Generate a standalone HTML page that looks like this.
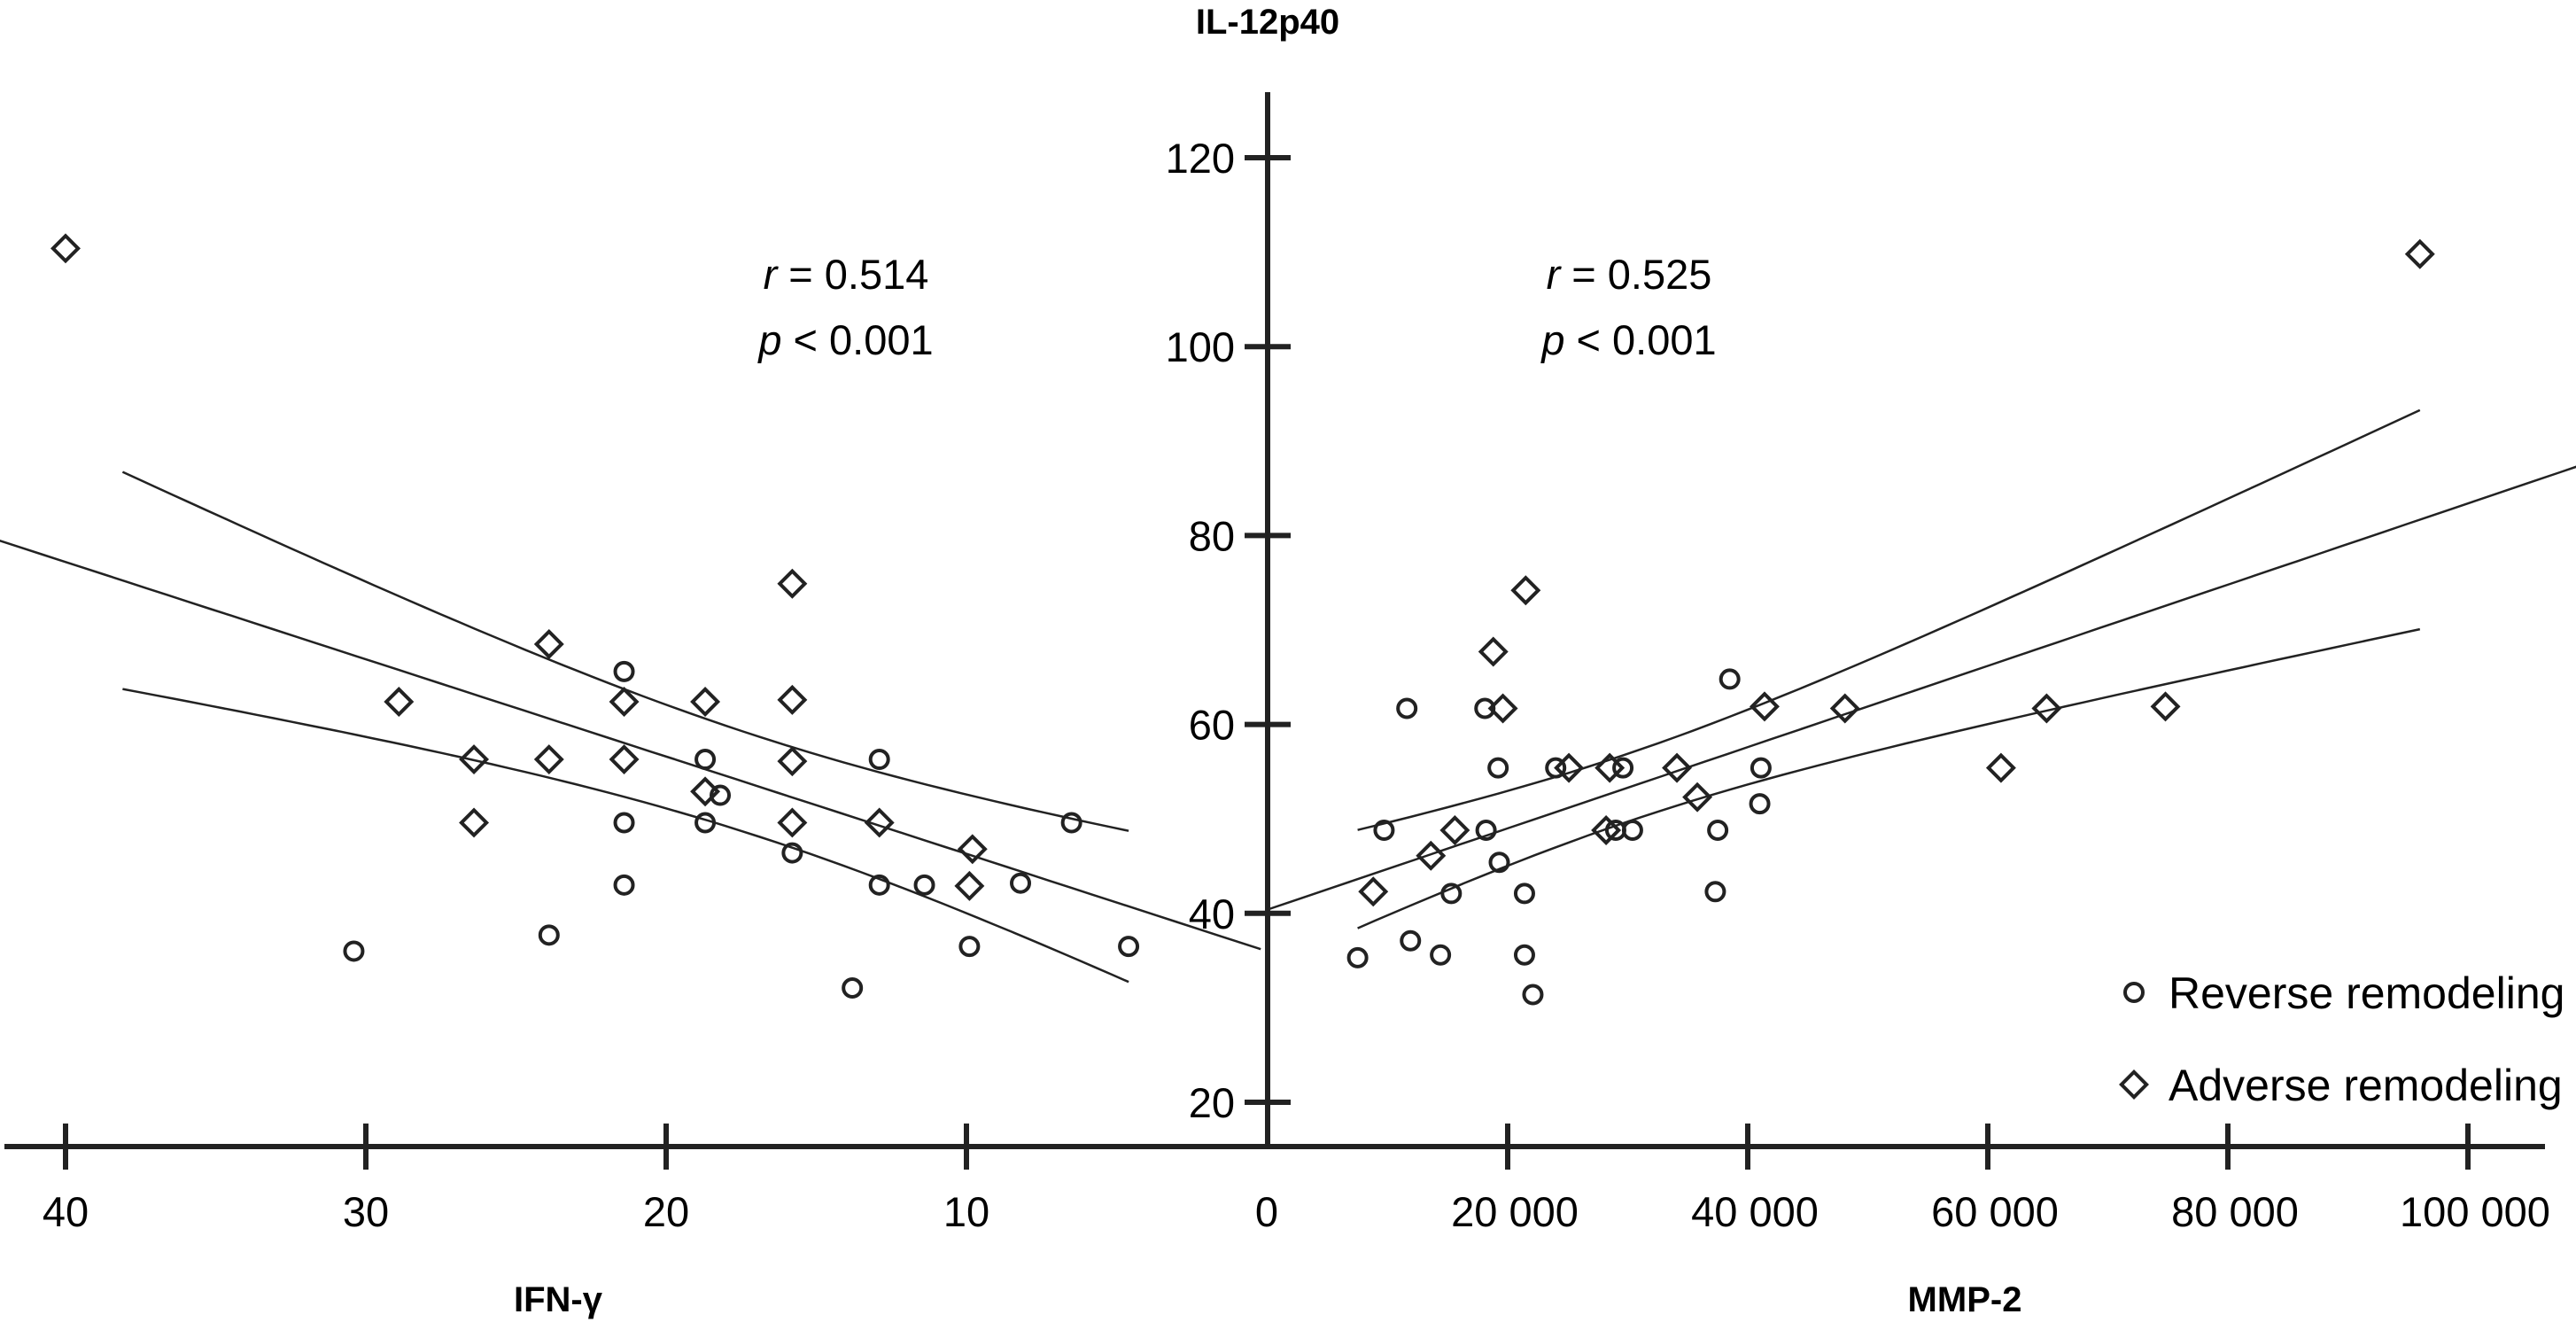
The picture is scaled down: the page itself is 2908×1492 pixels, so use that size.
<!DOCTYPE html>
<html><head><meta charset="utf-8"><style>
html,body{margin:0;padding:0;background:#fff;}
svg{display:block;font-family:"Liberation Sans",sans-serif;}
</style></head><body>
<svg id="chart" width="2908" height="1492" viewBox="0 0 2908 1492" xmlns="http://www.w3.org/2000/svg">
<g id="axes"></g>
<g id="lines"></g>
<g id="points"></g>
<text x="1431" y="38" font-size="40" font-weight="bold" text-anchor="middle">IL-12p40</text>
<text x="630" y="1480" font-size="40" font-weight="bold" text-anchor="middle">IFN-γ</text>
<text x="2218" y="1480" font-size="40" font-weight="bold" text-anchor="middle">MMP-2</text>
<g font-size="47" text-anchor="middle">
<text x="955" y="326"><tspan font-style="italic">r</tspan> = 0.514</text>
<text x="955" y="400"><tspan font-style="italic">p</tspan> &lt; 0.001</text>
</g>
<g font-size="47" text-anchor="middle">
<text x="1839" y="326"><tspan font-style="italic">r</tspan> = 0.525</text>
<text x="1839" y="400"><tspan font-style="italic">p</tspan> &lt; 0.001</text>
</g>
<g>
<circle cx="2409" cy="1120" r="10" fill="none" stroke="#222" stroke-width="4"/>
<text x="2448" y="1138" font-size="50">Reverse remodeling</text>
<rect x="2399" y="1214" width="20" height="20" transform="rotate(45 2409 1224)" fill="none" stroke="#222" stroke-width="4"/>
<text x="2448" y="1242" font-size="50">Adverse remodeling</text>
</g>
</svg>
<script>
// Data
const yTicks = [20,40,60,80,100,120];
const leftTicks = [40,30,20,10,0];
const rightTicks = [20000,40000,60000,80000,100000];
const rightTickLabels = ["20 000","40 000","60 000","80 000","100 000"];
const leftDiamondX = [40,23.9,28.9,21.4,18.7,15.8,15.8,26.4,23.9,21.4,15.8,26.4,18.7,15.8,12.9,9.8,9.9];
const leftDiamondY = [110.4,68.5,62.4,62.4,62.4,74.9,62.6,56.3,56.3,56.3,56.1,49.6,52.9,49.6,49.6,46.8,42.9];
const leftCircleX = [21.4,18.7,18.2,18.7,21.4,12.9,15.8,21.4,12.9,11.4,8.2,6.5,30.4,23.9,13.8,9.9,4.6];
const leftCircleY = [65.6,56.3,52.5,49.6,49.6,56.3,46.4,43.0,43.0,43.0,43.2,49.6,36.0,37.7,32.1,36.5,36.5];
const rightDiamondX = [96000,21500,18800,19600,41400,48100,64900,74800,25100,28500,34100,61100,35800,15600,13600,8800,28200];
const rightDiamondY = [109.8,74.2,67.7,61.7,61.9,61.7,61.7,61.9,55.4,55.4,55.4,55.4,52.3,48.8,46.1,42.3,48.8];
const rightCircleX = [11600,18100,38500,19200,24000,29600,41100,41000,9700,18200,29000,30400,37500,19300,15300,21400,37300,7500,11900,14400,21400,22100];
const rightCircleY = [61.7,61.7,64.8,55.4,55.4,55.4,55.4,51.6,48.8,48.8,48.8,48.8,48.8,45.4,42.1,42.1,42.3,35.3,37.1,35.6,35.6,31.4];
// fit params: intercept, slope, CI a, CI b, CI center
const leftFit = [36, 1.03, 28, 0.2337, 17];
const rightFit = [40.4, 4.3, 12.9, 2.79, 3]; // x in units of 10 000

const NS="http://www.w3.org/2000/svg";
const AX_Y = 1294;
const yS = v => 1244 - (v-20)*10.66;
const xL = v => 1430 - v*33.9;
const xR = v => 1431 + v/20000*271;
function mk(tag, attrs, parent){const e=document.createElementNS(NS,tag);for(const k in attrs)e.setAttribute(k,attrs[k]);parent.appendChild(e);return e;}
const axes=document.getElementById('axes'), lines=document.getElementById('lines'), pts=document.getElementById('points');
const st={stroke:'#222','stroke-width':6};
let e;
e=mk('line',Object.assign({x1:5,y1:AX_Y,x2:2873,y2:AX_Y},st),axes);


e=mk('line',Object.assign({x1:1431,y1:104,x2:1431,y2:AX_Y+3},st),axes);


yTicks.forEach(v=>{
  const t=mk('line',Object.assign({x1:1405,y1:yS(v),x2:1457,y2:yS(v)},st),axes);
  
  
  const l=mk('text',{x:1394,y:yS(v)+17,'font-size':47,'text-anchor':'end'},axes);l.textContent=v;
  
  
});
leftTicks.forEach(v=>{
  if(v!==0){const t=mk('line',Object.assign({x1:xL(v),y1:AX_Y-26,x2:xL(v),y2:AX_Y+26},st),axes);
  
  }
  const l=mk('text',{x:xL(v),y:1384,'font-size':47,'text-anchor':'middle'},axes);l.textContent=v;
  
  
});
rightTicks.forEach((v,i)=>{
  const t=mk('line',Object.assign({x1:xR(v),y1:AX_Y-26,x2:xR(v),y2:AX_Y+26},st),axes);
  
  
  const l=mk('text',{x:xR(v)+8,y:1384,'font-size':47,'text-anchor':'middle'},axes);l.textContent=rightTickLabels[i];
  
  
});
function fitPath(f, x0, x1, sign, xs, scale){
  let d='';
  for(let i=0;i<=60;i++){const x=x0+(x1-x0)*i/60;const u=x/scale;
    const m=f[0]+f[1]*u;const h=Math.sqrt(f[2]+f[3]*(u-f[4])*(u-f[4]));
    const y=m+sign*h;d+=(i?'L':'M')+xs(x).toFixed(1)+' '+yS(y).toFixed(1);}
  return d;
}
[[leftFit,42.2,0.2,0,'left-fit-line'],[leftFit,38.1,4.6,1,'left-ci-upper'],[leftFit,38.1,4.6,-1,'left-ci-lower']].forEach(a=>{
  const p=mk('path',{d:fitPath(a[0],a[1],a[2],a[3],xL,1),fill:'none',stroke:'#222','stroke-width':2.5},lines);
  
  
});
[[rightFit,0,109500,0,'right-fit-line'],[rightFit,7500,96000,1,'right-ci-upper'],[rightFit,7500,96000,-1,'right-ci-lower']].forEach(a=>{
  const p=mk('path',{d:fitPath(a[0],a[1],a[2],a[3],xR,10000),fill:'none',stroke:'#222','stroke-width':2.5},lines);
  
  
});
function circ(x,y){const c=mk('circle',{cx:x,cy:y,r:10,fill:'none',stroke:'#222','stroke-width':4},pts);
  
  }
function diam(x,y){const c=mk('rect',{x:x-10,y:y-10,width:20,height:20,transform:`rotate(45 ${x} ${y})`,fill:'none',stroke:'#222','stroke-width':4},pts);
  
  }
leftCircleX.forEach((v,i)=>circ(xL(v),yS(leftCircleY[i])));
leftDiamondX.forEach((v,i)=>diam(xL(v),yS(leftDiamondY[i])));
rightCircleX.forEach((v,i)=>circ(xR(v),yS(rightCircleY[i])));
rightDiamondX.forEach((v,i)=>diam(xR(v),yS(rightDiamondY[i])));
</script>
</body></html>
